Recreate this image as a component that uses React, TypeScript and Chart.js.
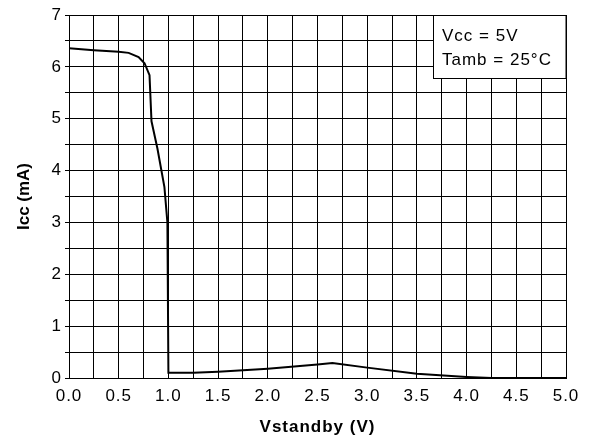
import React, { useEffect, useRef } from "react";
import { Chart, registerables } from "chart.js";

Chart.register(...registerables);

const vStandby = [0, 0.25, 0.5, 0.6, 0.7, 0.76, 0.81, 0.83, 0.89, 0.96, 0.99, 1.0, 1.25, 1.5, 2.0, 2.5, 2.65, 3.0, 3.5, 4.0, 4.25, 5.0];
const iccValues = [6.36, 6.32, 6.29, 6.27, 6.19, 6.07, 5.84, 4.95, 4.42, 3.68, 3.0, 0.1, 0.1, 0.12, 0.18, 0.26, 0.29, 0.2, 0.08, 0.02, 0, 0];
const legendLines = ["Vcc = 5V", "Tamb = 25°C"];
const xTitle = "Vstandby (V)";
const yTitle = "Icc (mA)";

const FONT = '"Liberation Sans", Arial, Helvetica, sans-serif';

export default function App() {
  const ref = useRef<HTMLCanvasElement | null>(null);

  useEffect(() => {
    document.body.style.margin = "0";
    const canvas = ref.current;
    if (!canvas) return;

    const spacing = (chart: any) => {
      (chart.ctx as any).letterSpacing = "1px";
    };

    const custom = {
      id: "custom",
      beforeUpdate: spacing,
      beforeLayout: spacing,
      beforeDraw: spacing,
      afterDraw(chart: any) {
        const ctx = chart.ctx as CanvasRenderingContext2D;
        const area = chart.chartArea;
        ctx.save();
        // legend box
        const bx = 433.5;
        const by = area.top + 0.5;
        const bw = area.right - bx;
        const bh = 63;
        ctx.fillStyle = "#fff";
        ctx.fillRect(bx, by, bw, bh);
        ctx.strokeStyle = "#000";
        ctx.lineWidth = 1;
        ctx.strokeRect(bx, by, bw, bh);
        (ctx as any).letterSpacing = "1px";
        ctx.fillStyle = "#000";
        ctx.font = `17px ${FONT}`;
        ctx.textAlign = "left";
        ctx.textBaseline = "alphabetic";
        ctx.fillText(legendLines[0], 442, 41);
        ctx.fillText(legendLines[1], 442, 65);
        // y title
        (ctx as any).letterSpacing = "0px";
        ctx.font = `bold 17px ${FONT}`;
        ctx.translate(24.5, (area.top + area.bottom) / 2);
        ctx.rotate(-Math.PI / 2);
        ctx.textAlign = "center";
        ctx.textBaseline = "middle";
        ctx.fillText(yTitle, 0, 0);
        ctx.restore();
        (ctx as any).letterSpacing = "1px";
      },
    };

    const chart = new Chart(canvas, {
      type: "line",
      data: {
        datasets: [
          {
            data: vStandby.map((x, i) => ({ x, y: iccValues[i] })),
            borderColor: "#000",
            borderWidth: 2,
            pointRadius: 0,
            tension: 0,
            fill: false,
          },
        ],
      },
      options: {
        animation: false,
        responsive: false,
        layout: { padding: { top: 15, right: 24, left: 0, bottom: 0 } },
        plugins: { legend: { display: false }, tooltip: { enabled: false } },
        scales: {
          x: {
            type: "linear",
            min: 0,
            max: 5,
            afterFit: (s: any) => {
              s.height = 65;
            },
            grid: { color: "#000", lineWidth: 1, drawTicks: false },
            border: { color: "#000", width: 1 },
            ticks: {
              stepSize: 0.25,
              autoSkip: false,
              maxRotation: 0,
              padding: 8,
              color: "#000",
              font: { family: FONT, size: 17 },
              callback: (v: any) => {
                const n = Number(v);
                return Math.abs(n * 2 - Math.round(n * 2)) < 1e-6 ? n.toFixed(1) : "";
              },
            },
            title: {
              display: true,
              text: xTitle,
              color: "#000",
              font: { family: FONT, size: 17, weight: "bold" },
              padding: { top: 0, bottom: 5 },
            },
          },
          y: {
            min: 0,
            max: 7,
            afterFit: (s: any) => {
              s.width = 69;
            },
            grid: { color: "#000", lineWidth: 1, drawTicks: true, tickLength: 4 },
            border: { color: "#000", width: 1 },
            ticks: {
              stepSize: 0.5,
              autoSkip: false,
              padding: 3,
              color: "#000",
              font: { family: FONT, size: 17 },
              callback: (v: any) => {
                const n = Number(v);
                return Math.abs(n - Math.round(n)) < 1e-6 ? String(Math.round(n)) : "";
              },
            },
          },
        },
      },
      plugins: [custom],
    } as any);

    return () => chart.destroy();
  }, []);

  return (
    <div style={{ position: "fixed", left: 0, top: 0, width: 590, height: 443, background: "#fff" }}>
      <canvas ref={ref} width={590} height={443} />
    </div>
  );
}
